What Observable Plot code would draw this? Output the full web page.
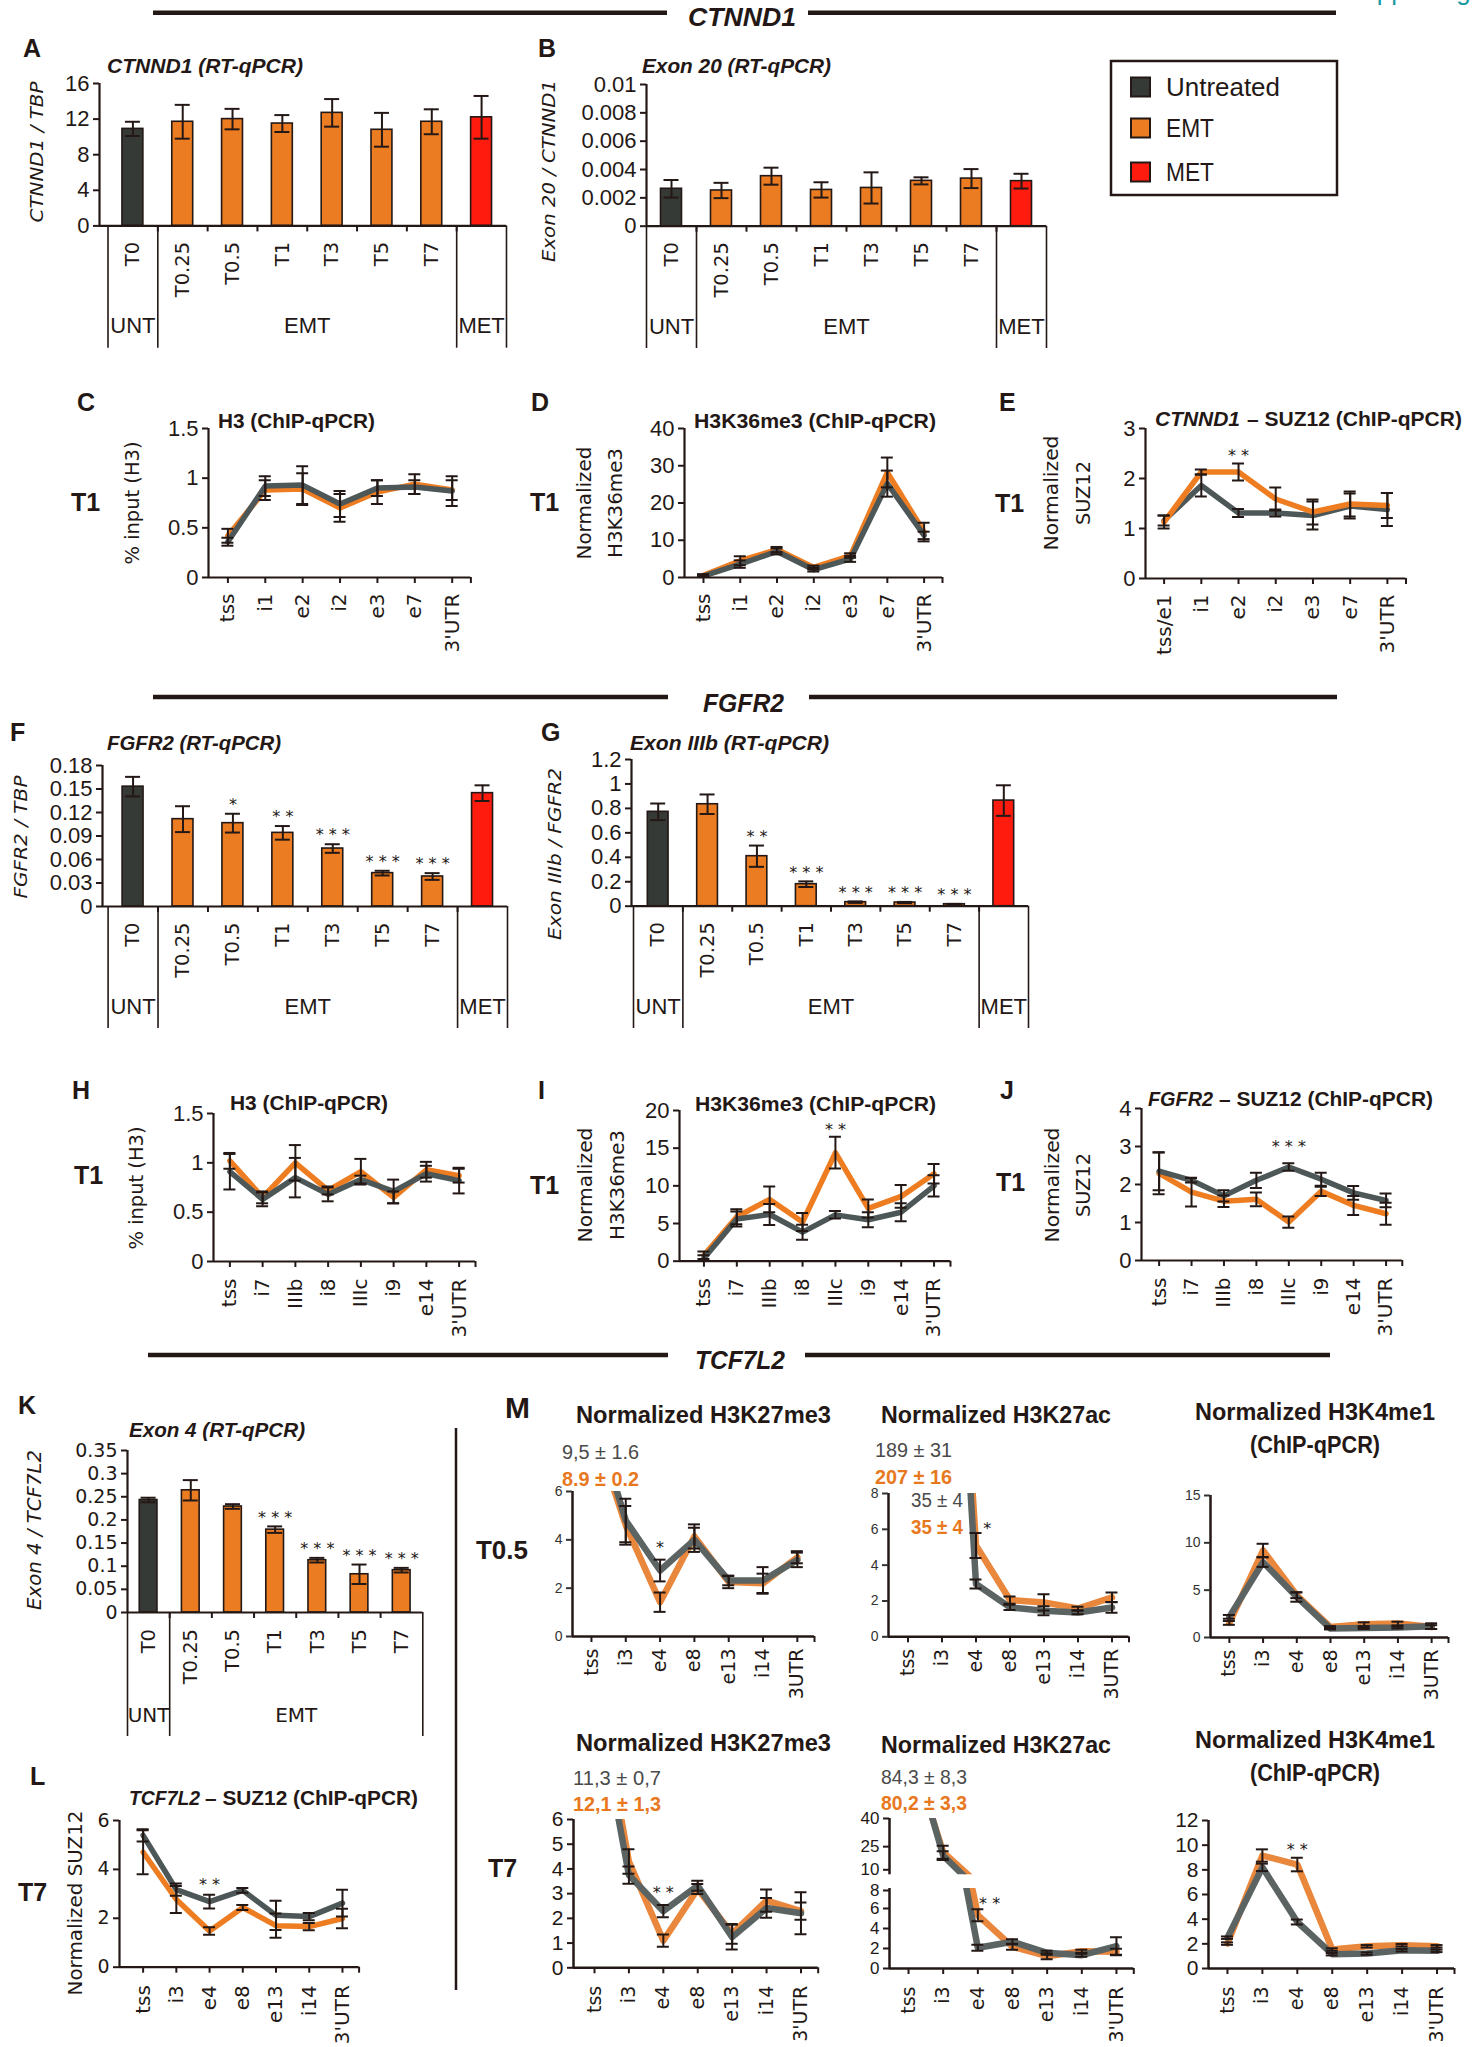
<!DOCTYPE html>
<html><head><meta charset="utf-8">
<script src="https://cdn.jsdelivr.net/npm/d3@7"></script>
<script src="https://cdn.jsdelivr.net/npm/@observablehq/plot@0.6"></script>
<style>
html,body{margin:0;padding:0;background:#fff;}
#fig{position:relative;width:1480px;height:2047px;overflow:hidden;background:#fff;}
#fig svg{position:absolute;overflow:visible !important;background:transparent !important;max-width:none !important;}
</style></head><body><div id="fig"></div>
<script>
// ---------------- DATA ----------------
const timeLabels = ["T0","T0.25","T0.5","T1","T3","T5","T7",""];
const timeLabelsK = ["T0","T0.25","T0.5","T1","T3","T5","T7"];
const conditions = ["Untreated","EMT","EMT","EMT","EMT","EMT","EMT","MET"];
const groupNames = ["UNT","EMT","MET"];
const ctnnd1Sites = ["tss","i1","e2","i2","e3","e7","3'UTR"];
const ctnnd1SitesE = ["tss/e1","i1","e2","i2","e3","e7","3'UTR"];
const fgfr2Sites = ["tss","i7","IIIb","i8","IIIc","i9","e14","3'UTR"];
const tcfSites = ["tss","i3","e4","e8","e13","i14","3'UTR"];
const tcfSitesTop = ["tss","i3","e4","e8","e13","i14","3UTR"];

// A: CTNND1 / TBP
const ctnnd1Mean = [10.9, 11.7, 12.0, 11.5, 12.7, 10.8, 11.7, 12.2];
const ctnnd1Err  = [0.8, 1.9, 1.15, 0.95, 1.55, 1.9, 1.4, 2.4];
const ticksA = [0, 4, 8, 12, 16];
// B: Exon 20 / CTNND1
const exon20Mean = [0.00264, 0.00252, 0.00353, 0.00256, 0.0027, 0.0032, 0.00336, 0.00318];
const exon20Err  = [0.00062, 0.00054, 0.0006, 0.00054, 0.0011, 0.00025, 0.00067, 0.00052];
const ticksB = [0, 0.002, 0.004, 0.006, 0.008, 0.01];
// C: H3 ChIP CTNND1 (T1)
const cUntr = [0.36, 0.92, 0.93, 0.74, 0.90, 0.91, 0.87];
const cUntrErr = [0.04, 0.10, 0.19, 0.13, 0.08, 0.07, 0.15];
const cEmt = [0.42, 0.88, 0.89, 0.70, 0.86, 0.94, 0.88];
const cEmtErr = [0.07, 0.10, 0.16, 0.14, 0.12, 0.10, 0.10];
const ticksC = [0, 0.5, 1, 1.5];
// D: H3K36me3 CTNND1
const dUntr = [0.4, 3.6, 7.0, 2.1, 5.0, 25.2, 11.3];
const dUntrErr = [0.3, 1.0, 0.8, 0.5, 0.8, 3.5, 1.0];
const dEmt = [0.6, 4.5, 7.5, 2.7, 5.9, 28.2, 12.2];
const dEmtErr = [0.3, 1.2, 0.7, 0.5, 0.6, 4.0, 2.5];
const ticksD = [0, 10, 20, 30, 40];
// E: CTNND1 SUZ12
const eUntr = [1.16, 1.86, 1.31, 1.31, 1.26, 1.45, 1.38];
const eUntrErr = [0.10, 0.22, 0.08, 0.07, 0.28, 0.25, 0.33];
const eEmt = [1.13, 2.13, 2.13, 1.59, 1.33, 1.49, 1.46];
const eEmtErr = [0.13, 0.05, 0.17, 0.23, 0.25, 0.25, 0.25];
const ticksE = [0, 1, 2, 3];
const starsE = [{i: 2, y: 2.53, s: "**"}];
// F: FGFR2 / TBP
const fgfr2Mean = [0.153, 0.1115, 0.1064, 0.094, 0.074, 0.0426, 0.0383, 0.1447];
const fgfr2Err  = [0.0125, 0.0165, 0.012, 0.0087, 0.0055, 0.003, 0.0043, 0.01];
const fgfr2Stars = ["", "", "*", "**", "***", "***", "***", ""];
const ticksF = [0, 0.03, 0.06, 0.09, 0.12, 0.15, 0.18];
// G: Exon IIIb / FGFR2
const exon3bMean = [0.772, 0.834, 0.409, 0.18, 0.033, 0.03, 0.016, 0.864];
const exon3bErr  = [0.068, 0.08, 0.087, 0.023, 0.006, 0.005, 0.003, 0.125];
const exon3bStars = ["", "", "**", "***", "***", "***", "***", ""];
const ticksG = [0, 0.2, 0.4, 0.6, 0.8, 1, 1.2];
// H: H3 ChIP FGFR2
const hUntr = [0.91, 0.63, 0.85, 0.68, 0.83, 0.71, 0.89, 0.82];
const hUntrErr = [0.18, 0.07, 0.20, 0.07, 0.04, 0.12, 0.08, 0.13];
const hEmt = [1.02, 0.65, 1.00, 0.72, 0.91, 0.65, 0.93, 0.87];
const hEmtErr = [0.08, 0.06, 0.18, 0.04, 0.13, 0.06, 0.08, 0.07];
// I: H3K36me3 FGFR2
const iUntr = [0.4, 5.6, 6.2, 3.85, 6.15, 5.5, 6.5, 10.0];
const iUntrErr = [0.4, 1.0, 1.4, 1.0, 0.5, 1.0, 1.2, 1.4];
const iEmt = [0.8, 5.9, 8.2, 5.2, 14.4, 7.0, 8.6, 11.6];
const iEmtErr = [0.5, 1.0, 1.7, 1.2, 2.1, 1.2, 1.5, 1.3];
const ticksI = [0, 5, 10, 15, 20];
const starsI = [{i: 4, y: 18, s: "**"}];
// J: FGFR2 SUZ12
const jUntr = [2.35, 2.11, 1.70, 2.11, 2.46, 2.14, 1.78, 1.58];
const jUntrErr = [0.5, 0.06, 0.15, 0.2, 0.1, 0.17, 0.18, 0.18];
const jEmt = [2.29, 1.80, 1.56, 1.61, 1.01, 1.82, 1.45, 1.23];
const jEmtErr = [0.55, 0.38, 0.15, 0.18, 0.15, 0.12, 0.25, 0.29];
const ticksJ = [0, 1, 2, 3, 4];
const starsJ = [{i: 4, y: 3.1, s: "***"}];
// K: Exon 4 / TCF7L2
const exon4Mean = [0.243, 0.264, 0.229, 0.179, 0.113, 0.0826, 0.0914];
const exon4Err  = [0.005, 0.022, 0.005, 0.007, 0.005, 0.021, 0.005];
const exon4Stars = ["", "", "", "***", "***", "***", "***"];
const ticksK = [0, 0.05, 0.1, 0.15, 0.2, 0.25, 0.3, 0.35];
// L: TCF7L2 SUZ12 (T7)
const lUntr = [5.39, 3.17, 2.68, 3.14, 2.12, 2.07, 2.62];
const lUntrErr = [0.25, 0.25, 0.28, 0.1, 0.6, 0.15, 0.55];
const lEmt = [4.70, 2.77, 1.48, 2.44, 1.70, 1.66, 1.99];
const lEmtErr = [0.9, 0.55, 0.15, 0.1, 0.5, 0.15, 0.4];
const ticksL = [0, 2, 4, 6];
const starsL = [{i: 2, y: 3.55, s: "**"}];
// M (T0.5): H3K27me3, H3K27ac, H3K4me1
const m1Untr = [9.5, 4.8, 2.73, 4.0, 2.32, 2.32, 3.17];
const m1UntrErr = [1.6, 0.9, 0.45, 0.5, 0.2, 0.55, 0.3];
const m1Emt = [8.9, 4.6, 1.42, 4.14, 2.25, 2.2, 3.28];
const m1EmtErr = [0.2, 0.8, 0.4, 0.5, 0.25, 0.4, 0.25];
const m1Notes = ["9,5 ± 1.6", "8.9 ± 0.2"];
const m2Untr = [189, 35, 2.95, 1.64, 1.45, 1.36, 1.64];
const m2UntrErr = [31, 4, 0.25, 0.15, 0.25, 0.1, 0.3];
const m2Emt = [207, 35, 5.1, 2.05, 1.92, 1.58, 2.2];
const m2EmtErr = [16, 4, 0.7, 0.2, 0.45, 0.1, 0.27];
const m2Notes = ["189 ± 31", "207 ± 16", "35 ± 4", "35 ± 4"];
const m3Untr = [2.18, 7.96, 4.28, 0.95, 1.0, 1.05, 1.2];
const m3UntrErr = [0.2, 0.5, 0.5, 0.1, 0.1, 0.1, 0.3];
const m3Emt = [1.54, 9.2, 4.46, 1.1, 1.4, 1.47, 1.1];
const m3EmtErr = [0.2, 0.7, 0.3, 0.1, 0.2, 0.2, 0.2];
// M (T7)
const m4Untr = [11.3, 3.75, 2.29, 3.32, 1.24, 2.42, 2.21];
const m4UntrErr = [0.7, 0.35, 0.25, 0.2, 0.5, 0.4, 0.85];
const m4Emt = [12.1, 4.3, 1.1, 3.19, 1.37, 2.72, 2.29];
const m4EmtErr = [1.3, 0.5, 0.25, 0.2, 0.4, 0.45, 0.35];
const m4Notes = ["11,3 ± 0,7", "12,1 ± 1,3"];
const m5Untr = [84.3, 20.2, 2.07, 2.67, 1.57, 1.33, 2.23];
const m5UntrErr = [8.3, 2.3, 0.3, 0.25, 0.2, 0.15, 0.9];
const m5Emt = [80.2, 22, 5.33, 2.17, 1.23, 1.73, 1.67];
const m5EmtErr = [3.3, 3.5, 0.6, 0.3, 0.3, 0.15, 0.3];
const m5Notes = ["84,3 ± 8,3", "80,2 ± 3,3"];
const m6Untr = [2.5, 8.2, 3.77, 1.16, 1.21, 1.48, 1.43];
const m6UntrErr = [0.1, 0.3, 0.2, 0.1, 0.1, 0.1, 0.1];
const m6Emt = [2.02, 9.16, 8.43, 1.54, 1.8, 1.89, 1.8];
const m6EmtErr = [0.1, 0.5, 0.55, 0.1, 0.1, 0.1, 0.1];
const ticksM6 = [0, 2, 4, 6, 8];
const ticksM15 = [0, 5, 10, 15];
const ticksM7 = [0, 1, 2, 3, 4, 5, 6];
const ticksM5Up = [10, 25, 40];
const ticksM12 = [0, 2, 4, 6, 8, 10, 12];
const starsM1 = [{i: 2, y: 3.85, s: "*"}];
const starsM2 = [{i: 2.33, y: 6.25, s: "*"}];
const starsM4 = [{i: 2, y: 3.19, s: "**"}];
const starsM5 = [{i: 2.34, y: 6.9, s: "**"}];
const starsM6 = [{i: 2, y: 9.97, s: "**"}];

// ---------------- STYLE ----------------
const DARK = "#231815";
const COLORS = {Untreated: "#363a36", EMT: "#EC7C22", MET: "#FF1B0E"};
const GREY = "#4e5757", ORANGE = "#EE7D22";
const MGREY = "#5b6363", MORANGE = "#E9873C";
const SANS = "'Liberation Sans', Arial, Helvetica, sans-serif";
const DJ = "'DejaVu Sans', Verdana, sans-serif";
const fmt = d => String(+d.toFixed(6));

const fig = document.getElementById("fig");
function place(el, left, top) {
  el.style.position = "absolute"; el.style.left = left + "px"; el.style.top = top + "px";
  fig.appendChild(el);
}

function barPanel(o) {
  const n = o.means.length;
  const step = (o.bandEnd - o.bandStart) / n;
  const xmin = -0.5 - (o.bandStart - o.axisX) / step, xmax = n - 0.5;
  const fw = o.bandEnd - o.axisX, fh = o.yBot - o.yTop;
  const mL = 100, mR = 20, mT = 40, mB = o.divBottom - o.yBot + 10;
  const data = o.means.map((v, i) => ({i, v, e: o.errs[i], c: COLORS[conditions[i]], s: (o.stars || [])[i] || ""}));
  const bw = 0.21, cw = 7.5 / step;
  const bounds = d3.range(n - 1).map(i => i + 0.5);
  const svg = Plot.plot({
    width: fw + mL + mR, height: fh + mT + mB,
    marginLeft: mL, marginRight: mR, marginTop: mT, marginBottom: mB,
    x: {type: "linear", domain: [xmin, xmax]},
    y: {type: "linear", domain: [0, o.ymax]},
    style: {background: "none", overflow: "visible"},
    marks: [
      Plot.rectY(data, {x1: d => d.i - bw, x2: d => d.i + bw, y1: 0, y2: "v", fill: "c", stroke: DARK, strokeWidth: 1.6}),
      Plot.ruleX(data, {x: "i", y1: d => d.v - d.e, y2: d => d.v + d.e, stroke: DARK, strokeWidth: 2}),
      Plot.ruleY(data, {y: d => d.v + d.e, x1: d => d.i - cw, x2: d => d.i + cw, stroke: DARK, strokeWidth: 2}),
      Plot.ruleY(data, {y: d => d.v - d.e, x1: d => d.i - cw, x2: d => d.i + cw, stroke: DARK, strokeWidth: 2}),
      Plot.ruleY([0], {stroke: DARK, strokeWidth: 2.2}),
      Plot.ruleX([xmin], {stroke: DARK, strokeWidth: 2.2}),
      Plot.axisY({ticks: o.ticks, tickFormat: fmt, tickSize: 6, tickPadding: 4, fontSize: o.tickFont || 22, fontFamily: o.tickFamily || SANS, color: DARK, strokeWidth: 2, label: null}),
      Plot.axisX({ticks: d3.range(n), tickFormat: i => o.labels[i], tickRotate: -90, tickSize: 0, tickPadding: o.labelGap, fontSize: 19.5, fontFamily: DJ, color: DARK, label: null}),
      Plot.ruleX(bounds, {insetTop: fh, insetBottom: -6, stroke: DARK, strokeWidth: 2}),
      Plot.ruleX(o.dividers, {insetTop: fh, insetBottom: -(o.divBottom - o.yBot), stroke: DARK, strokeWidth: 1.6}),
      Plot.text(o.groups, {x: "x", text: "label", frameAnchor: "bottom", dy: o.groupY - o.yBot, fontSize: o.groupFont || 22, fontFamily: o.groupFamily || SANS, fill: DARK}),
      Plot.text(data.filter(d => d.s), {x: "i", y: d => d.v + d.e, text: d => d.s.split("").join(" "), dy: -9, fontSize: 16, fontFamily: DJ, fill: DARK})
    ]
  });
  place(svg, o.axisX - mL, o.yTop - mT);
}

function linePanel(o) {
  const n = o.cats.length;
  const step = (o.rightEnd - o.bandStart) / n;
  const xmin = -0.5 - (o.bandStart - o.axisX) / step, xmax = n - 0.5;
  const fw = o.rightEnd - o.axisX, fh = o.yBot - o.yTop;
  const mL = 80, mR = 20, mT = 30, mB = o.noX ? 10 : 110;
  const cw = (o.cap || 6) / step;
  const errC = o.errColor || DARK;
  const marks = [];
  for (const s of o.series) {
    const rows = s.v.map((v, i) => ({i, v}));
    marks.push(Plot.lineY(rows, {x: "i", y: "v", stroke: s.c, strokeWidth: o.lw, strokeLinejoin: "round", strokeOpacity: s.op || 1, clip: true}));
  }
  for (const s of o.series) {
    const rows = s.v.map((v, i) => ({i, v, e: s.e[i]}));
    marks.push(
      Plot.ruleX(rows, {x: "i", y1: d => d.v - d.e, y2: d => d.v + d.e, stroke: errC, strokeWidth: 2, clip: true}),
      Plot.ruleY(rows, {y: d => d.v + d.e, x1: d => d.i - cw, x2: d => d.i + cw, stroke: errC, strokeWidth: 2, clip: true}),
      Plot.ruleY(rows, {y: d => d.v - d.e, x1: d => d.i - cw, x2: d => d.i + cw, stroke: errC, strokeWidth: 2, clip: true})
    );
  }
  marks.push(Plot.ruleX([xmin], {stroke: DARK, strokeWidth: o.axisW || 2.2}));
  if (!o.noX) marks.push(Plot.ruleY([o.y[0]], {stroke: DARK, strokeWidth: o.axisW || 2.2}));
  const axisOpts = {tickFormat: fmt, tickSize: 6, tickPadding: 4, fontSize: o.tickFont || 22, fontFamily: o.tickFamily || SANS, color: o.tickColor || DARK, strokeWidth: 2, label: null};
  const shifted = o.shift ? o.ticks.filter(t => t === o.shift.value) : [];
  const plain = o.ticks.filter(t => !shifted.includes(t));
  marks.push(Plot.axisY({ticks: plain, ...axisOpts}));
  if (shifted.length) marks.push(Plot.axisY({ticks: shifted, ...axisOpts, dy: o.shift.dy}));
  if (!o.noX) {
    marks.push(
      Plot.axisX({ticks: d3.range(n), tickFormat: i => o.cats[i], tickRotate: -90, tickSize: 0, tickPadding: o.labelGap, fontSize: o.catFont || 20, fontFamily: DJ, color: DARK, label: null}),
      Plot.ruleX([...d3.range(n), xmax], {insetTop: fh, insetBottom: -6, stroke: DARK, strokeWidth: 2})
    );
  }
  if (o.stars) marks.push(Plot.text(o.stars, {x: "i", y: "y", text: d => d.s.split("").join(" "), dy: 4, fontSize: 16, fontFamily: DJ, fill: DARK}));
  const svg = Plot.plot({
    width: fw + mL + mR, height: fh + mT + mB,
    marginLeft: mL, marginRight: mR, marginTop: mT, marginBottom: mB,
    x: {type: "linear", domain: [xmin, xmax], ...(o.noX ? {axis: null} : {})},
    y: {type: "linear", domain: o.y},
    style: {background: "none", overflow: "visible"},
    marks
  });
  place(svg, o.axisX - mL, o.yTop - mT);
}

const groups8 = [{x: 0, label: groupNames[0]}, {x: 3.5, label: groupNames[1]}, {x: 7, label: groupNames[2]}];
const groups7 = [{x: 0, label: groupNames[0]}, {x: 3.5, label: groupNames[1]}];
const ser = (emt, emtE, un, unE, cO = ORANGE, cG = GREY) => [{v: emt, e: emtE, c: cO}, {v: un, e: unE, c: cG}];

// ---- bar panels ----
barPanel({axisX: 99, bandStart: 107.5, bandEnd: 506, yTop: 83.3, yBot: 225.7, ymax: 16, ticks: ticksA,
  means: ctnnd1Mean, errs: ctnnd1Err, labels: timeLabels, dividers: [-0.5, 0.5, 6.5, 7.5], groups: groups8,
  divBottom: 348, groupY: 333, labelGap: 16});
barPanel({axisX: 645.5, bandStart: 645.5, bandEnd: 1045.5, yTop: 84, yBot: 225.7, ymax: 0.01, ticks: ticksB,
  means: exon20Mean, errs: exon20Err, labels: timeLabels, dividers: [-0.5, 0.5, 6.5, 7.5], groups: groups8,
  divBottom: 348, groupY: 333, labelGap: 16});
barPanel({axisX: 102, bandStart: 107.6, bandEnd: 507, yTop: 765, yBot: 906, ymax: 0.18, ticks: ticksF,
  means: fgfr2Mean, errs: fgfr2Err, stars: fgfr2Stars, labels: timeLabels, dividers: [-0.5, 0.5, 6.5, 7.5], groups: groups8,
  divBottom: 1028, groupY: 1013, labelGap: 16});
barPanel({axisX: 631, bandStart: 633, bandEnd: 1028, yTop: 759, yBot: 905.7, ymax: 1.2, ticks: ticksG,
  means: exon3bMean, errs: exon3bErr, stars: exon3bStars, labels: timeLabels, dividers: [-0.5, 0.5, 6.5, 7.5], groups: groups8,
  divBottom: 1028, groupY: 1013, labelGap: 16});
barPanel({axisX: 126.7, bandStart: 126.7, bandEnd: 422, yTop: 1450, yBot: 1612, ymax: 0.35, ticks: ticksK,
  means: exon4Mean, errs: exon4Err, stars: exon4Stars, labels: timeLabelsK, dividers: [-0.5, 0.5, 6.5], groups: groups7,
  divBottom: 1736, groupY: 1722, labelGap: 16.5, tickFont: 19, tickFamily: DJ, groupFont: 20, groupFamily: DJ});

// ---- ChIP line panels ----
linePanel({axisX: 207.6, bandStart: 208.3, rightEnd: 470, yTop: 428, yBot: 577, y: [0, 1.5], ticks: ticksC,
  cats: ctnnd1Sites, series: ser(cEmt, cEmtErr, cUntr, cUntrErr), lw: 5.5, labelGap: 16});
linePanel({axisX: 684, bandStart: 684.6, rightEnd: 942, yTop: 428, yBot: 577, y: [0, 40], ticks: ticksD,
  cats: ctnnd1Sites, series: ser(dEmt, dEmtErr, dUntr, dUntrErr), lw: 5.5, labelGap: 16});
linePanel({axisX: 1144.5, bandStart: 1144.5, rightEnd: 1405, yTop: 428, yBot: 578, y: [0, 3], ticks: ticksE,
  cats: ctnnd1SitesE, series: [{v: eUntr, e: eUntrErr, c: GREY}, {v: eEmt, e: eEmtErr, c: ORANGE}], lw: 5.5, labelGap: 16, stars: starsE});
linePanel({axisX: 213, bandStart: 213, rightEnd: 475, yTop: 1112.7, yBot: 1260.7, y: [0, 1.5], ticks: ticksC,
  cats: fgfr2Sites, series: ser(hEmt, hEmtErr, hUntr, hUntrErr), lw: 5.5, labelGap: 17});
linePanel({axisX: 679, bandStart: 687, rightEnd: 950, yTop: 1110, yBot: 1260.7, y: [0, 20], ticks: ticksI,
  cats: fgfr2Sites, series: ser(iEmt, iEmtErr, iUntr, iUntrErr), lw: 5.5, labelGap: 17, stars: starsI});
linePanel({axisX: 1141, bandStart: 1142.4, rightEnd: 1401.8, yTop: 1108, yBot: 1260, y: [0, 4], ticks: ticksJ,
  cats: fgfr2Sites, series: ser(jEmt, jEmtErr, jUntr, jUntrErr), lw: 5.5, labelGap: 17, stars: starsJ});
linePanel({axisX: 119, bandStart: 126, rightEnd: 358.6, yTop: 1820, yBot: 1966.7, y: [0, 6], ticks: ticksL,
  cats: tcfSites, series: ser(lEmt, lEmtErr, lUntr, lUntrErr), lw: 5.5, labelGap: 18, tickFont: 19, tickFamily: DJ, stars: starsL});

// ---- M panels ----
const mTop = {lw: 6.5, labelGap: 12, tickFont: 14, tickColor: "#333", catFont: 19, cap: 6, axisW: 2.5};
const mBot = {lw: 6.5, labelGap: 18, tickFont: 21, tickColor: DARK, catFont: 19, cap: 6, axisW: 2.5};
linePanel({...mTop, axisX: 572, bandStart: 573.8, rightEnd: 814, yTop: 1491, yBot: 1636, y: [0, 6], ticks: [0, 2, 4, 6],
  cats: tcfSitesTop, series: ser(m1Emt, m1EmtErr, m1Untr, m1UntrErr, MORANGE, MGREY), stars: starsM1});
linePanel({...mTop, axisX: 887.5, bandStart: 890, rightEnd: 1128, yTop: 1492.7, yBot: 1636, y: [0, 8], ticks: ticksM6,
  cats: tcfSitesTop, series: ser(m2Emt, m2EmtErr, m2Untr, m2UntrErr, MORANGE, MGREY), stars: starsM2});
linePanel({...mTop, axisX: 1210, bandStart: 1212, rightEnd: 1448, yTop: 1495, yBot: 1637, y: [0, 15], ticks: ticksM15,
  cats: tcfSitesTop, series: ser(m3Emt, m3EmtErr, m3Untr, m3UntrErr, MORANGE, MGREY)});
linePanel({...mBot, axisX: 573, bandStart: 576.8, rightEnd: 817.7, yTop: 1818.7, yBot: 1967, y: [0, 6], ticks: ticksM7,
  cats: tcfSites, series: ser(m4Emt, m4EmtErr, m4Untr, m4UntrErr, MORANGE, MGREY), stars: starsM4});
linePanel({...mBot, tickFont: 17, shift: {value: 10, dy: -5}, axisX: 889, bandStart: 890.7, rightEnd: 1133.3, yTop: 1817.7, yBot: 1874, y: [10, 40], ticks: ticksM5Up,
  cats: tcfSites, series: ser(m5Emt, m5EmtErr, m5Untr, m5UntrErr, MORANGE, MGREY), noX: true});
linePanel({...mBot, tickFont: 17, shift: {value: 8, dy: 2}, axisX: 889, bandStart: 890.7, rightEnd: 1133.3, yTop: 1888, yBot: 1968, y: [0, 8], ticks: ticksM6,
  cats: tcfSites, series: ser(m5Emt, m5EmtErr, m5Untr, m5UntrErr, MORANGE, MGREY), stars: starsM5});
linePanel({...mBot, axisX: 1208, bandStart: 1209.5, rightEnd: 1454, yTop: 1820, yBot: 1968, y: [0, 12], ticks: ticksM12,
  cats: tcfSites, series: ser(m6Emt, m6EmtErr, m6Untr, m6UntrErr, MORANGE, MGREY), stars: starsM6});

// ---------------- OVERLAY TEXT ----------------
const ov = d3.create("svg").attr("width", 1480).attr("height", 2047)
  .style("position", "absolute").style("left", "0px").style("top", "0px");
function txt(x, y, s, o = {}) {
  const t = ov.append("text").attr("x", x).attr("y", y).text(s)
    .attr("font-family", o.family || SANS).attr("font-size", o.size || 21)
    .attr("font-weight", o.weight || "normal").attr("font-style", o.style || "normal")
    .attr("fill", o.fill || DARK).attr("text-anchor", o.anchor || "start")
    .attr("dominant-baseline", "central");
  if (o.len) t.attr("textLength", o.len).attr("lengthAdjust", "spacingAndGlyphs");
  if (o.rotate) t.attr("transform", `rotate(-90 ${x} ${y})`);
  return t;
}
function line(x1, y1, x2, y2, w) {
  ov.append("line").attr("x1", x1).attr("y1", y1).attr("x2", x2).attr("y2", y2).attr("stroke", DARK).attr("stroke-width", w);
}
// partial teal header at top right (cropped in the source figure)
txt(1345, -9, "Supporting", {size: 26, fill: "#1b9aa6"});
// section headers
const BI = {weight: "bold", style: "italic"};
line(153, 12.7, 667, 12.7, 4.5); line(808, 12.7, 1336, 12.7, 4.5);
txt(742, 17, "CTNND1", {...BI, size: 26, anchor: "middle", len: 108});
line(153, 697, 668, 697, 4.5); line(809, 697, 1337, 697, 4.5);
txt(743.5, 703, "FGFR2", {...BI, size: 26, anchor: "middle", len: 81});
line(148, 1355, 668, 1355, 4.5); line(805, 1355, 1330, 1355, 4.5);
txt(740, 1360, "TCF7L2", {...BI, size: 26, anchor: "middle", len: 90});
// vertical separator
line(456, 1428, 456, 1990, 2.5);
// panel letters
const L = {weight: "bold", size: 25};
[["A", 23, 48], ["B", 538, 48], ["C", 77, 402], ["D", 531, 402], ["E", 999, 402], ["F", 10, 732], ["G", 541, 732],
 ["H", 72, 1090], ["I", 538, 1090], ["J", 1000, 1090], ["K", 18, 1405], ["L", 30, 1776]].forEach(([s, x, y]) => txt(x, y, s, L));
txt(505, 1407, "M", {weight: "bold", size: 30});
// panel titles
txt(107, 65, "CTNND1 (RT-qPCR)", {...BI, len: 196});
txt(642, 65, "Exon 20 (RT-qPCR)", {...BI, len: 189});
txt(218, 420, "H3 (ChIP-qPCR)", {weight: "bold", len: 157});
txt(694, 420, "H3K36me3 (ChIP-qPCR)", {weight: "bold", len: 242});
txt(1155, 418, "CTNND1", {...BI, len: 85});
txt(1247, 418, "– SUZ12 (ChIP-qPCR)", {weight: "bold", len: 215});
txt(107, 742, "FGFR2 (RT-qPCR)", {...BI, len: 174});
txt(630, 742, "Exon IIIb (RT-qPCR)", {...BI, len: 199});
txt(230, 1102, "H3 (ChIP-qPCR)", {weight: "bold", len: 158});
txt(695, 1103, "H3K36me3 (ChIP-qPCR)", {weight: "bold", len: 241});
txt(1148, 1098, "FGFR2", {...BI, len: 65});
txt(1219, 1098, "– SUZ12 (ChIP-qPCR)", {weight: "bold", len: 214});
txt(129, 1429, "Exon 4 (RT-qPCR)", {...BI, len: 176});
txt(129, 1797, "TCF7L2", {...BI, len: 71});
txt(205, 1797, "– SUZ12 (ChIP-qPCR)", {weight: "bold", len: 213});
const MT = {weight: "bold", size: 23};
[[1415, 1415, 1412, 1445], [1743, 1745, 1740, 1773]].forEach(([y1, y2, y3, y4]) => {
  txt(576, y1, "Normalized H3K27me3", {...MT, len: 255});
  txt(881, y2, "Normalized H3K27ac", {...MT, len: 230});
  txt(1195, y3, "Normalized H3K4me1", {...MT, len: 240});
  txt(1250, y4, "(ChIP-qPCR)", {...MT, len: 130});
});
// time-point labels
const TL = {weight: "bold", size: 25};
[["T1", 71, 502], ["T1", 530, 502], ["T1", 995, 503], ["T1", 74, 1175], ["T1", 530, 1185], ["T1", 996, 1182], ["T7", 18, 1892], ["T7", 488, 1868]]
  .forEach(([s, x, y]) => txt(x, y, s, TL));
txt(476, 1550, "T0.5", {...TL, len: 52});
// y-axis titles
const YI = {family: DJ, size: 18, style: "italic", anchor: "middle", rotate: true};
const YN = {family: DJ, size: 19.5, anchor: "middle", rotate: true};
txt(36, 152, "CTNND1 / TBP", {...YI, len: 141});
txt(548, 171, "Exon 20 / CTNND1", {...YI, len: 182});
txt(20, 837, "FGFR2 / TBP", {...YI, len: 123});
txt(554, 854, "Exon IIIb / FGFR2", {...YI, len: 172});
txt(33.5, 1530, "Exon 4 / TCF7L2", {...YI, size: 19, len: 160});
txt(132, 503, "% input (H3)", {...YN, len: 123});
txt(136.5, 1188, "% input (H3)", {...YN, len: 123});
txt(584, 503, "Normalized", {...YN, len: 113}); txt(615, 503, "H3K36me3", {...YN, len: 110});
txt(585, 1185, "Normalized", {...YN, len: 115}); txt(617, 1185, "H3K36me3", {...YN, len: 110});
txt(1051.5, 493, "Normalized", {...YN, len: 115}); txt(1083.5, 493, "SUZ12", {...YN, len: 64});
txt(1052.5, 1185, "Normalized", {...YN, len: 115}); txt(1083.5, 1185, "SUZ12", {...YN, len: 64});
txt(75, 1903, "Normalized SUZ12", {...YN, len: 185});
// M annotations (off-scale values)
const NG = {size: 20, fill: "#4a4a4a"}, NO = {size: 20, fill: "#E8781E", weight: "bold"};
txt(562, 1452, m1Notes[0], {...NG, len: 77}); txt(562, 1479, m1Notes[1], {...NO, len: 77});
txt(875, 1450, m2Notes[0], {...NG, len: 77}); txt(875, 1477, m2Notes[1], {...NO, len: 77});
txt(911, 1500, m2Notes[2], {...NG, len: 52}); txt(911, 1527, m2Notes[3], {...NO, len: 52});
txt(573, 1778, m4Notes[0], {...NG, len: 88}); txt(573, 1804, m4Notes[1], {...NO, len: 88});
txt(881, 1777, m5Notes[0], {...NG, len: 86}); txt(881, 1803, m5Notes[1], {...NO, len: 86});
// legend
ov.append("rect").attr("x", 1111).attr("y", 61).attr("width", 226).attr("height", 134)
  .attr("fill", "none").attr("stroke", DARK).attr("stroke-width", 2.5);
[["Untreated", 87, 114], ["EMT", 128, 48], ["MET", 172, 48]].forEach(([k, y, len]) => {
  ov.append("rect").attr("x", 1131).attr("y", y - 9.5).attr("width", 19).attr("height", 19)
    .attr("fill", COLORS[k]).attr("stroke", DARK).attr("stroke-width", 2);
  txt(1166, y, k, {size: 25, len});
});
fig.appendChild(ov.node());
</script></body></html>
